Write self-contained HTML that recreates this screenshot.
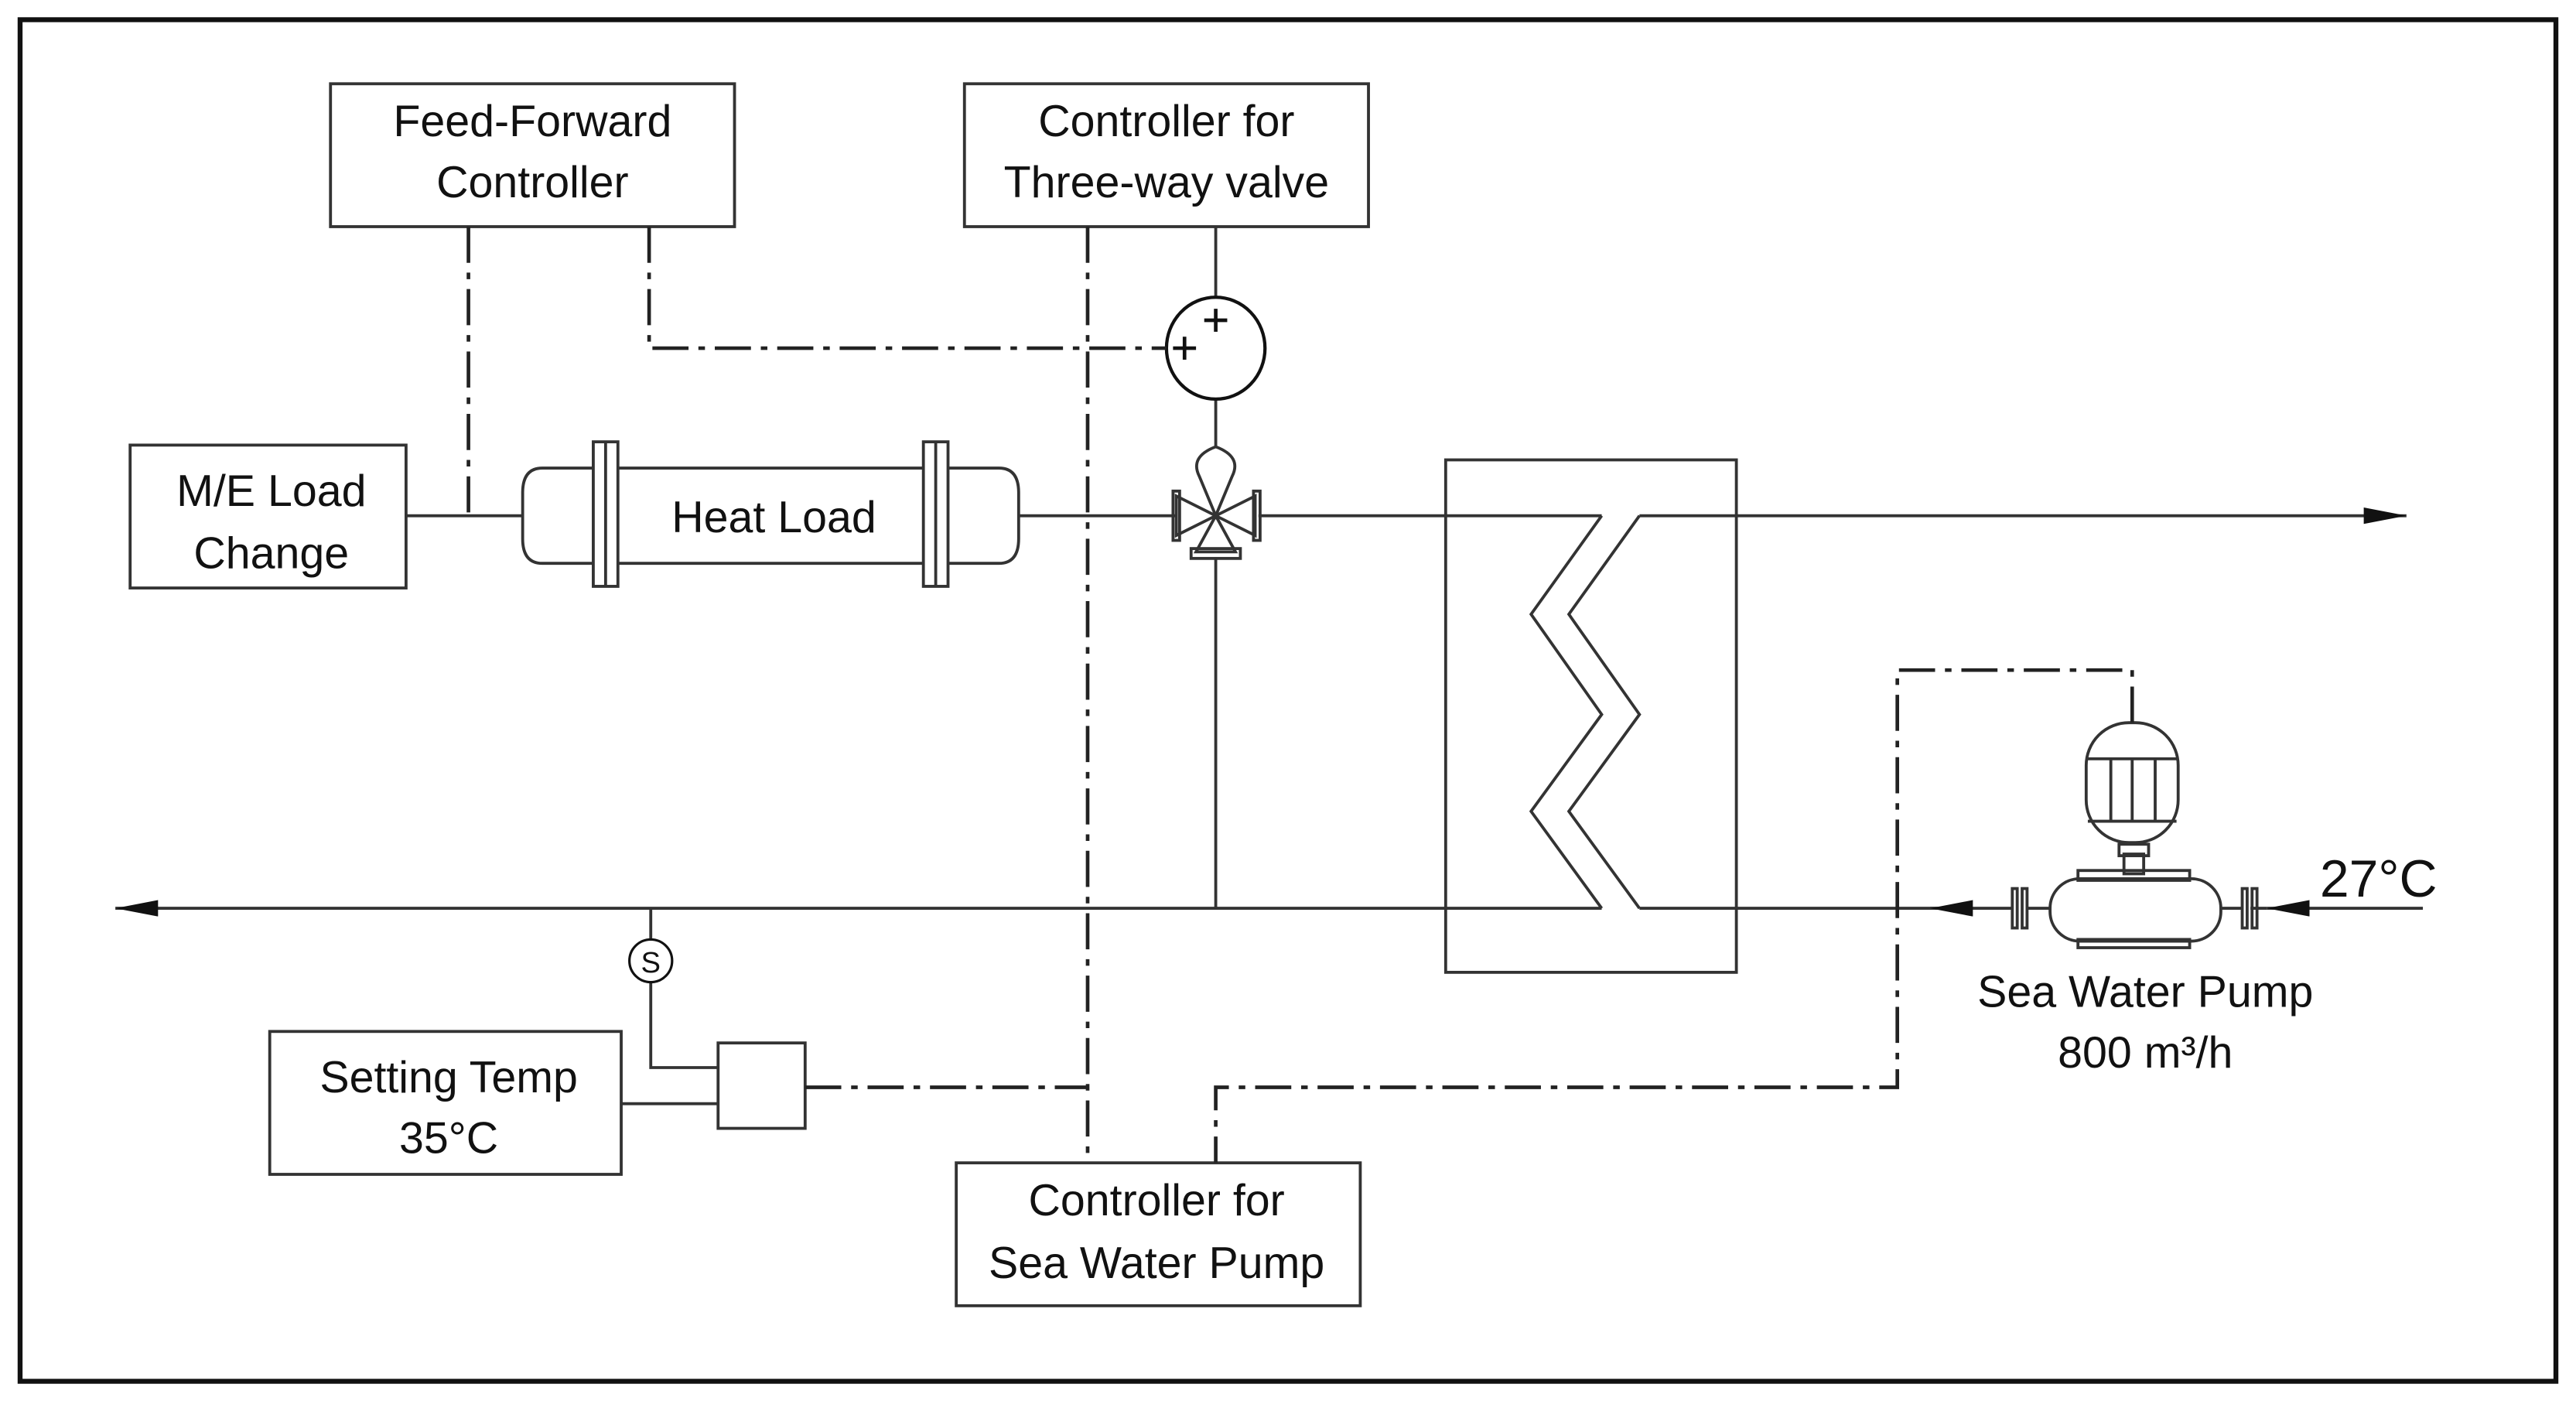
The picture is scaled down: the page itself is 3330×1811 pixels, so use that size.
<!DOCTYPE html>
<html><head><style>html,body{margin:0;padding:0;background:#fff}svg{display:block}text{font-family:"Liberation Sans",sans-serif;fill:#111}</style></head>
<body>
<svg width="3330" height="1811" viewBox="0 0 1568 853" xmlns="http://www.w3.org/2000/svg">
<defs>
<marker id="ah" viewBox="0 0 10 10" refX="10" refY="5" markerWidth="26" markerHeight="10" markerUnits="userSpaceOnUse" orient="auto" preserveAspectRatio="none"><path d="M0,0L10,5L0,10z" fill="#111"/></marker>
</defs>
<rect x="0" y="0" width="1568" height="853" fill="#fff"/>
<rect x="12" y="12" width="1544" height="829" fill="none" stroke="#111" stroke-width="3"/>
<g fill="none" stroke="#333" stroke-width="1.8">
<rect x="201" y="51" width="246" height="87"/>
<rect x="587" y="51" width="246" height="87"/>
<rect x="79" y="271" width="168" height="87"/>
<rect x="164" y="628" width="214" height="87"/>
<rect x="582" y="708" width="246" height="87"/>
<rect x="437" y="635" width="53" height="52"/>
<rect x="880" y="280" width="177" height="312"/>
<path d="M330,285 H608 Q620,285 620,300 V328 Q620,343 608,343 H330 Q318,343 318,328 V300 Q318,285 330,285 Z"/>
<rect x="361" y="269" width="15" height="88" fill="#fff"/>
<line x1="368.5" y1="269" x2="368.5" y2="357"/>
<rect x="562" y="269" width="15" height="88" fill="#fff"/>
<line x1="569.5" y1="269" x2="569.5" y2="357"/>
<line x1="247" y1="314" x2="318" y2="314"/>
<line x1="620" y1="314" x2="716" y2="314"/>
<line x1="766" y1="314" x2="975" y2="314"/>
<line x1="998" y1="314" x2="1465" y2="314" marker-end="url(#ah)"/>
<polyline points="975,314 932,374 975,435 932,494 975,553"/>
<polyline points="998,314 955,374 998,435 955,494 998,553"/>
<line x1="975" y1="553" x2="70" y2="553" marker-end="url(#ah)"/>
<line x1="998" y1="553" x2="1198" y2="553"/>
<line x1="1225" y1="553" x2="1175" y2="553" marker-end="url(#ah)"/>
<line x1="1475" y1="553" x2="1380" y2="553" marker-end="url(#ah)"/>
<line x1="1370" y1="553" x2="1380" y2="553"/>
<rect x="1225" y="541" width="3" height="24"/><rect x="1231" y="541" width="3" height="24"/>
<rect x="1365" y="541" width="3" height="24"/><rect x="1371" y="541" width="3" height="24"/>
<line x1="1234" y1="553" x2="1248" y2="553"/><line x1="1352" y1="553" x2="1365" y2="553"/>
<rect x="1248" y="535" width="104" height="38" rx="18"/>
<rect x="1265" y="530" width="68" height="6"/><rect x="1265" y="572" width="68" height="5"/>
<rect x="1293" y="520" width="12" height="12"/>
<rect x="1290" y="514" width="18" height="7"/>
<rect x="1270" y="440" width="56" height="73" rx="26"/>
<line x1="1271" y1="462" x2="1325" y2="462"/><line x1="1271" y1="500" x2="1325" y2="500"/>
<line x1="1285" y1="462" x2="1285" y2="500"/><line x1="1298" y1="462" x2="1298" y2="500"/><line x1="1312" y1="462" x2="1312" y2="500"/>
<path d="M716,302 L740,314 L716,326 Z M764,302 L740,314 L764,326 Z"/>
<path d="M740,314 L728,336 H752 Z M740,314 L730,290 Q724,278 740,272 Q756,278 750,290 Z"/>
<rect x="725" y="334" width="30" height="6"/>
<rect x="714" y="299" width="4" height="30"/><rect x="763" y="299" width="4" height="30"/>
<line x1="740" y1="340" x2="740" y2="553"/>
<line x1="740" y1="243" x2="740" y2="272"/>
<line x1="740" y1="138" x2="740" y2="181"/>
<line x1="396" y1="553" x2="396" y2="572"/>
<polyline points="396,598 396,650 437,650"/>
<line x1="378" y1="672" x2="437" y2="672"/>
</g>
<ellipse cx="740" cy="212" rx="30" ry="31" fill="none" stroke="#111" stroke-width="2"/>
<g stroke="#111" stroke-width="2.2"><line x1="733" y1="195" x2="747" y2="195"/><line x1="740" y1="188" x2="740" y2="202"/>
<line x1="714" y1="212" x2="728" y2="212"/><line x1="721" y1="205" x2="721" y2="219"/></g>
<circle cx="396" cy="585" r="13" fill="#fff" stroke="#111" stroke-width="1.5"/>
<text x="396" y="592" font-size="18" text-anchor="middle">S</text>
<g fill="none" stroke="#222" stroke-width="2.2" stroke-dasharray="22,6,4,6">
<line x1="285" y1="138" x2="285" y2="314"/>
<polyline points="395,138 395,212 710,212"/>
<line x1="662" y1="138" x2="662" y2="708"/>
<line x1="490" y1="662" x2="662" y2="662"/>
<polyline points="1298,440 1298,408 1155,408 1155,662 740,662 740,708"/>
</g>
<g font-size="27" text-anchor="middle">
<text x="324" y="83">Feed-Forward</text><text x="324" y="120">Controller</text>
<text x="710" y="83">Controller for</text><text x="710" y="120">Three-way valve</text>
<text x="165" y="308">M/E Load</text><text x="165" y="346">Change</text>
<text x="471" y="324">Heat Load</text>
<text x="273" y="665">Setting Temp</text><text x="273" y="702">35°C</text>
<text x="704" y="740">Controller for</text><text x="704" y="778">Sea Water Pump</text>
<text x="1306" y="613">Sea Water Pump</text><text x="1306" y="650">800 m³/h</text>
<text x="1448" y="546" font-size="32">27°C</text>
</g>
</svg>
</body></html>
